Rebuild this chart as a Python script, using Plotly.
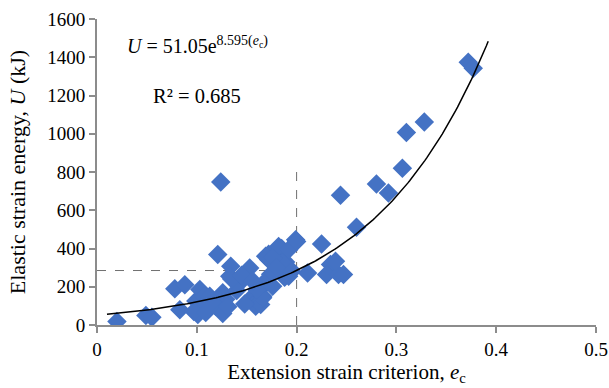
import numpy as np
import plotly.graph_objects as go

# Scatter data: extension strain criterion e_c vs elastic strain energy U (kJ)
ec = [0.020, 0.049, 0.055, 0.078, 0.088, 0.083, 0.099, 0.101, 0.103, 0.107,
      0.111, 0.118, 0.125, 0.129, 0.105, 0.119, 0.113, 0.126, 0.126, 0.121,
      0.124, 0.134, 0.133, 0.143, 0.153, 0.153, 0.162, 0.159, 0.163, 0.166,
      0.164, 0.166, 0.172, 0.178, 0.185, 0.189, 0.194, 0.188, 0.174, 0.167,
      0.160, 0.172, 0.182, 0.192, 0.199, 0.186, 0.192, 0.176, 0.169, 0.176,
      0.200, 0.211, 0.225, 0.234, 0.230, 0.242, 0.247, 0.239, 0.244, 0.260,
      0.280, 0.292, 0.306, 0.310, 0.328, 0.372, 0.377, 0.140, 0.135, 0.115,
      0.097, 0.145, 0.156, 0.180, 0.195, 0.148, 0.131, 0.109]
U = [18, 50, 40, 190, 210, 80, 125, 55, 185, 150,
     85, 105, 75, 135, 98, 98, 150, 168, 60, 368,
     748, 307, 255, 220, 298, 133, 133, 98, 185, 150,
     107, 142, 370, 330, 400, 330, 290, 250, 265, 220,
     185, 342, 411, 394, 446, 325, 255, 203, 360, 352,
     437, 272, 424, 316, 264, 264, 264, 333, 678, 511,
     737, 690, 820, 1006, 1061, 1374, 1343, 180, 240, 120,
     70, 260, 230, 300, 280, 110, 95, 65]

# Exponential fit U = a * exp(b * e_c)
fit_a = 51.05
fit_b = 8.595
fit_x_min = 0.01
fit_x_max = 0.392
x_ref = 0.2
v_line_top = 840

x_tick_vals = [0, 0.1, 0.2, 0.3, 0.4, 0.5]
x_tick_text = ["0", "0.1", "0.2", "0.3", "0.4", "0.5"]
y_tick_vals = [0, 200, 400, 600, 800, 1000, 1200, 1400, 1600]

xf = np.linspace(fit_x_min, fit_x_max, 200)
yf = fit_a * np.exp(fit_b * xf)
y_ref = fit_a * np.exp(fit_b * x_ref)

FONT = "Liberation Serif, Times New Roman, serif"
AXIS_COLOR = "#8c8c8c"

fig = go.Figure()
fig.add_trace(go.Scatter(
    x=ec, y=U, mode="markers",
    marker=dict(symbol="diamond", size=15, color="#4472C4", line=dict(width=0)),
    showlegend=False, hoverinfo="skip"))
fig.add_trace(go.Scatter(
    x=xf, y=yf, mode="lines",
    line=dict(color="black", width=1.5),
    showlegend=False, hoverinfo="skip"))

fig.add_shape(type="line", x0=0, x1=x_ref, y0=y_ref, y1=y_ref,
              line=dict(color="#707070", width=1, dash="dash"), layer="below")
fig.add_shape(type="line", x0=x_ref, x1=x_ref, y0=0, y1=v_line_top,
              line=dict(color="#707070", width=1, dash="dash"), layer="below")

fig.add_annotation(x=0.028, y=1464, xref="x", yref="y", xanchor="left",
                   showarrow=False,
                   text="<i>U</i> = 51.05e<sup>8.595(<i>e</i><sub>c</sub>)</sup>",
                   font=dict(family=FONT, size=20, color="black"))
fig.add_annotation(x=0.1, y=1198, xref="x", yref="y", xanchor="center",
                   showarrow=False,
                   text="R² = 0.685",
                   font=dict(family=FONT, size=20.5, color="black"))

fig.update_layout(
    width=609, height=388,
    margin=dict(l=97, r=13, t=19, b=63),
    paper_bgcolor="white", plot_bgcolor="white",
    font=dict(family=FONT, size=19, color="black"),
)
fig.update_xaxes(
    range=[0, 0.5], tickvals=x_tick_vals, ticktext=x_tick_text,
    showgrid=False, zeroline=False, automargin=False,
    showline=True, linecolor=AXIS_COLOR, linewidth=2,
    ticks="outside", ticklen=6, tickcolor=AXIS_COLOR, tickwidth=2,
    tickfont=dict(family=FONT, size=19), ticklabeloverflow="allow",
    title=dict(text="Extension strain criterion, <i>e</i><sub>c</sub>",
               font=dict(family=FONT, size=21), standoff=4),
)
fig.update_yaxes(
    range=[0, 1600], tickvals=y_tick_vals,
    showgrid=False, zeroline=False, automargin=False,
    showline=True, linecolor=AXIS_COLOR, linewidth=2,
    ticks="outside", ticklen=6, tickcolor=AXIS_COLOR, tickwidth=2,
    tickfont=dict(family=FONT, size=19),
    title=dict(text="Elastic strain energy, <i>U</i> (kJ)",
               font=dict(family=FONT, size=22), standoff=16),
)

fig.write_html("out.html")
